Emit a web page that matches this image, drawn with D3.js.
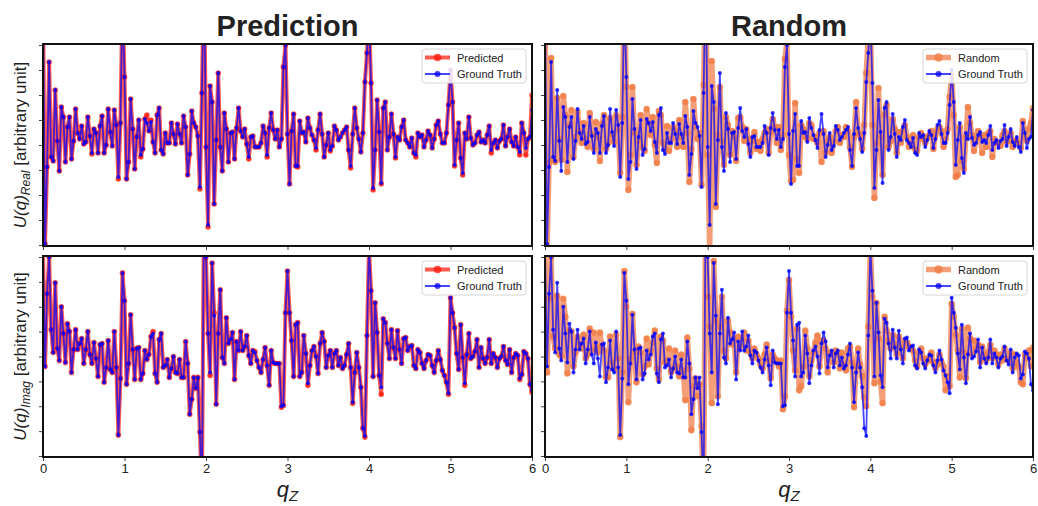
<!DOCTYPE html>
<html>
<head>
<meta charset="utf-8">
<script src="https://cdn.jsdelivr.net/npm/d3@7"></script>
<style>
  body { margin: 0; background: #fff; }
  text { font-family: "Liberation Sans", Arial, Helvetica, sans-serif; }
</style>
</head>
<body>
<svg id="chart" width="1038" height="506"></svg>
<script>
// --- data (arbitrary units, step 0.025 in q_z) ---
const qMax = 6;
const xTicks = [0, 1, 2, 3, 4, 5, 6];
const yTicks = [-100, -75, -50, -25, 0, 25, 50, 75, 100];
const titles = ["Prediction", "Random"];

const gtReal = [
  150,-99,-22,83,-12,-16,55,4,-26,38, 28,-17,18,28,-14,4,36,12,6,19,
  1,3,28,9,-8,16,12,-8,19,29, -8,0,36,13,-1,35,20,-32,22,150,
  68,-34,-17,46,16,-24,8,25,-10,-4, 26,22,14,23,3,-8,30,37,-5,-9,
  12,2,2,22,11,1,21,11,2,29, 18,-30,-9,34,22,18,9,-42,52,180,
  -2,-80,59,43,-59,5,72,-2,-26,32, 16,-17,12,13,-14,17,37,14,8,16,
  1,-12,8,9,-2,-2,-2,2,19,12, -10,17,32,15,6,15,-2,6,78,100,
  11,-39,14,31,-21,-21,24,12,13,3, 27,17,10,5,-3,15,31,11,-12,0,
  12,-5,-1,19,15,5,8,12,15,18, -5,-21,11,37,17,6,-7,12,63,92,
  130,62,-43,-5,45,13,-38,37,43,-5, 8,31,11,-12,8,5,18,25,5,2,
  -2,7,-8,-10,12,8,10,-2,5,14, 10,-3,6,20,24,11,2,2,12,40,
  75,43,-20,5,22,-13,-28,12,6,28, 7,0,2,10,13,3,5,2,10,19,
  -5,2,5,-3,4,6,20,-1,8,16, 3,-1,8,-2,-7,22,12,-3,6,8,
  35
];
const predReal = [
  150,-99,-22,83,-12,-16,55,4,-26,38, 28,-17,18,28,-14,4,36,12,6,19,
  1,3,28,9,-9,16,12,-8,19,29, -8,0,36,13,-1,35,20,-34,22,150,
  68,-34,-17,46,16,-24,8,25,-12,-4, 26,30,14,25,3,-8,30,37,-5,-9,
  12,2,2,22,11,1,21,11,2,29, 18,-30,-9,34,22,18,9,-44,52,180,
  -2,-82,59,43,-59,5,72,-2,-26,32, 16,-17,12,13,-14,17,37,14,8,16,
  1,-14,8,9,-2,-2,-2,2,19,12, -12,17,32,15,6,15,-2,6,78,100,
  11,-39,14,31,-21,-22,24,12,13,3, 27,17,10,5,-5,15,31,11,-12,0,
  12,-6,-1,19,15,5,8,12,15,18, -5,-23,11,37,17,6,-7,12,63,92,
  130,62,-45,-5,45,13,-39,37,43,-5, 8,31,11,-13,8,5,18,25,5,2,
  -2,7,-8,-12,12,8,10,-2,5,14, 10,-3,6,20,24,11,2,2,12,40,
  75,43,-21,5,22,-13,-30,12,6,28, 7,0,2,10,13,3,5,2,10,19,
  -8,2,5,-3,4,6,20,-1,8,16, 3,-1,8,-2,-10,22,12,-10,6,8,
  50
];
const randReal = [
  150,-105,-18,87,-14,-17,47,6,-15,49, 30,-27,20,35,-12,8,33,14,2,22,
  6,-2,32,11,-4,23,8,-16,21,30, -4,2,27,10,3,30,15,-28,28,150,
  58,-45,-10,58,12,-20,4,30,-2,-6, 36,22,10,28,0,-18,34,30,2,-4,
  19,-6,6,18,14,-2,25,8,-2,43, 12,-37,-4,46,18,6,12,-40,60,180,
  -10,-105,84,36,-62,10,58,4,-20,28, 20,-10,14,8,-16,27,28,18,4,16,
  6,-8,4,13,-4,3,-6,6,12,16, -8,13,26,18,2,18,-5,10,86,104,
  -10,-36,-35,42,-14,-28,20,16,8,6, 22,20,6,8,2,12,-17,14,-8,4,
  8,-8,3,14,18,2,10,8,18,14, -2,-22,8,43,12,10,-4,20,72,110,
  130,20,-53,2,57,8,-30,30,40,-2, 4,26,16,-8,13,2,14,20,8,-2,
  2,10,-4,-6,8,12,6,2,8,10, 14,-4,10,16,18,14,-2,6,16,48,
  70,30,-32,-30,18,-16,-24,8,38,22, 10,-6,6,14,8,-8,10,-2,12,14,
  -12,6,2,2,-1,10,14,3,4,12, -2,4,4,2,-3,24,8,4,16,22,
  37
];
const gtImag = [
  105,-10,63,100,27,4,74,8,-4,50, 23,-6,33,25,-16,7,27,7,13,18,
  -7,7,25,2,-7,14,-2,-20,12,13, -26,-11,16,-13,-16,25,-11,-79,-22,84,
  56,-28,-7,42,7,-23,8,9,-23,-17, 6,-3,2,20,23,-17,-26,17,23,-11,
  -9,-3,-21,-12,0,-16,-17,-3,-21,-21, 15,-7,-58,-43,-21,-32,-21,-76,-140,150,
  100,23,-16,94,41,-48,23,67,-1,-7, 39,13,17,24,-23,15,6,25,6,10,
  21,1,-7,6,4,-4,-11,-16,-3,9, -9,-29,6,-6,-7,-7,-7,-50,-49,44,
  86,44,16,-20,32,34,-20,-16,21,3, -27,-9,6,10,0,-17,13,24,15,-11,
  1,6,-11,3,6,-9,-1,-12,-9,2, 13,-11,-46,-16,4,-11,-31,-72,-80,21,
  110,66,-20,54,24,-19,-31,38,34,13, -2,27,9,-2,26,7,-7,18,19,6,
  10,11,-9,-12,7,4,-7,-12,-4,2, 1,-9,-16,-4,6,-3,-14,-19,-26,-37,
  59,44,29,3,-13,32,-1,-27,2,23, -2,0,5,17,-11,9,-2,-7,-1,17,
  -7,3,-1,-11,-2,0,10,-4,-8,7, -16,-1,3,1,-22,-18,5,3,-2,-28,
  -34
];
const predImag = [
  105,-10,63,100,27,4,74,8,-4,50, 23,-6,33,25,-16,7,27,7,13,18,
  -7,7,25,2,-7,14,-2,-20,12,13, -26,-11,16,-13,-16,25,-11,-79,-22,84,
  56,-28,-7,42,7,-23,8,9,-23,-17, 6,-3,2,20,25,-17,-26,17,23,-11,
  -9,-3,-21,-12,0,-16,-17,-3,-21,-21, 15,-7,-58,-43,-21,-32,-21,-76,-140,150,
  100,23,-19,94,44,-48,23,67,-1,-7, 39,13,17,24,-23,15,6,25,6,10,
  21,1,-7,6,5,-4,-11,-16,-3,9, -9,-29,6,-6,-7,-7,-7,-51,-49,44,
  86,44,16,-20,32,34,-20,-16,21,3, -29,-9,6,10,0,-17,13,24,15,-11,
  1,6,-11,3,6,-9,-1,-12,-9,2, 13,-11,-47,-16,4,-11,-31,-72,-81,21,
  110,66,-20,54,24,-19,-38,38,34,13, -2,27,9,-2,26,7,-7,18,19,6,
  10,11,-9,-12,7,4,-7,-12,-4,2, 1,-9,-16,-4,6,-3,-14,-19,-26,-38,
  59,44,29,3,-13,32,-1,-29,2,23, -2,0,5,17,-11,9,-2,-7,-1,17,
  -7,3,-1,-11,-2,0,10,-4,-8,7, -16,-1,3,1,-23,-18,5,3,-2,-28,
  -36
];
const randImag = [
  105,-16,58,100,20,8,61,2,0,58, 40,-17,26,25,-10,4,20,12,8,22,
  -2,2,28,6,24,10,4,24,10,6, -21,-21,20,-6,-12,22,-2,-81,-16,86,
  50,-46,-2,43,4,-26,10,4,-18,-10, 18,-8,6,14,26,-12,-23,20,16,-6,
  -4,8,-16,-12,6,-10,-20,2,-14,-44, 19,-12,-74,-30,-22,-40,-28,-70,-140,150,
  60,30,-47,96,36,-40,30,60,6,-2, 36,24,12,18,-16,20,10,18,24,6,
  16,4,-2,8,2,-2,-8,-12,2,12, -4,-22,2,-2,-4,-10,-4,-53,-40,46,
  77,40,6,-14,28,-34,-30,-10,26,8, -20,-4,4,14,21,-10,16,16,8,-16,
  4,2,-6,6,2,-12,4,-8,-14,8, 10,-6,-51,-10,8,-8,-20,-41,-50,30,
  110,60,-27,54,18,-25,-47,40,26,16, 8,22,12,2,20,10,-2,16,14,10,
  8,6,-4,-10,4,8,-2,-8,-2,-4, 4,-6,-12,-8,2,-6,-10,-34,-20,-30,
  53,40,22,6,-21,28,4,-22,29,18, 2,16,8,12,-6,10,2,-4,4,12,
  -2,6,2,-8,2,-4,8,-2,-4,4, -12,2,-6,-10,-26,-28,2,-2,6,-10,
  9
];

// --- layout ---
const cols = [{ x0: 43, x1: 532 }, { x0: 545, x1: 1033 }];
const rows = [{ y0: 44, y1: 246 }, { y0: 256, y1: 457 }];

const RED = "#ff1a0a", BLUE = "#0000ff", ORANGE = "#f07a42";

const svg = d3.select("#chart");
const defs = svg.append("defs");

function drawPanel(ci, ri, back, gt, backStyle, backLabel) {
    const c = cols[ci], r = rows[ri];
    const x = d3.scaleLinear().domain([0, qMax]).range([c.x0, c.x1]);
    const y = d3.scaleLinear().domain([-101, 101]).range([r.y1, r.y0]);
    const step = qMax / (gt.length - 1);
    const id = `clip-${ci}-${ri}`;

    defs.append("clipPath").attr("id", id)
        .append("rect")
        .attr("x", c.x0).attr("y", r.y0)
        .attr("width", c.x1 - c.x0).attr("height", r.y1 - r.y0);

    const g = svg.append("g").attr("clip-path", `url(#${id})`);
    const line = d3.line().x((d, i) => x(i * step)).y(d => y(d));

    // back series (Predicted or Random) -- wide line
    g.append("path").datum(back)
        .attr("d", line)
        .attr("fill", "none")
        .attr("stroke", backStyle.color)
        .attr("stroke-opacity", 0.72)
        .attr("stroke-width", backStyle.width)
        .attr("stroke-linejoin", "round");
    g.append("g").selectAll("circle").data(back).join("circle")
        .attr("cx", (d, i) => x(i * step)).attr("cy", d => y(d))
        .attr("r", backStyle.r)
        .attr("fill", backStyle.color).attr("fill-opacity", 0.72);

    // ground truth on top
    g.append("path").datum(gt)
        .attr("d", line)
        .attr("fill", "none")
        .attr("stroke", BLUE)
        .attr("stroke-opacity", 0.72)
        .attr("stroke-width", 1.8)
        .attr("stroke-linejoin", "round");
    g.append("g").selectAll("circle").data(gt).join("circle")
        .attr("cx", (d, i) => x(i * step)).attr("cy", d => y(d))
        .attr("r", 2)
        .attr("fill", BLUE).attr("fill-opacity", 0.78);

    // axes (ticks only, frame drawn separately)
    const xAxis = svg.append("g")
        .attr("transform", `translate(0,${r.y1})`)
        .call(d3.axisBottom(x).tickValues(xTicks).tickSize(4).tickPadding(3)
            .tickFormat(ri === 1 ? d3.format("d") : ""));
    const yAxis = svg.append("g")
        .attr("transform", `translate(${c.x0},0)`)
        .call(d3.axisLeft(y).tickValues(yTicks).tickSize(4).tickFormat(""));
    [xAxis, yAxis].forEach(a => {
        a.select(".domain").remove();
        a.selectAll(".tick line").attr("stroke", "#444");
        a.selectAll("text").attr("font-size", 13).attr("fill", "#222")
            .attr("font-family", "'Liberation Sans', Arial, sans-serif");
    });

    svg.append("rect")
        .attr("x", c.x0).attr("y", r.y0)
        .attr("width", c.x1 - c.x0).attr("height", r.y1 - r.y0)
        .attr("fill", "none").attr("stroke", "#111").attr("stroke-width", 2);

    // legend
    const lx = c.x1 - 110, ly = r.y0 + 5;
    const lg = svg.append("g").attr("transform", `translate(${lx},${ly})`);
    lg.append("rect").attr("width", 104).attr("height", 34).attr("rx", 3)
        .attr("fill", "#fff").attr("fill-opacity", 0.85)
        .attr("stroke", "#d6d6d6").attr("stroke-width", 1);
    const items = [
        { label: backLabel, color: backStyle.color, w: backStyle.width, r: backStyle.r + 1 },
        { label: "Ground Truth", color: BLUE, w: 2, r: 3 }
    ];
    items.forEach((it, k) => {
        const yy = 8.5 + k * 16.5;
        lg.append("line").attr("x1", 3).attr("x2", 28).attr("y1", yy).attr("y2", yy)
            .attr("stroke", it.color).attr("stroke-opacity", 0.72).attr("stroke-width", it.w);
        lg.append("circle").attr("cx", 15.5).attr("cy", yy).attr("r", it.r)
            .attr("fill", it.color).attr("fill-opacity", 0.75);
        lg.append("text").attr("x", 35).attr("y", yy + 4)
            .attr("font-size", 11).attr("fill", "#222").text(it.label);
    });
}

drawPanel(0, 0, predReal, gtReal, { color: RED, width: 4, r: 2.8 }, "Predicted");
drawPanel(0, 1, predImag, gtImag, { color: RED, width: 4, r: 2.8 }, "Predicted");
drawPanel(1, 0, randReal, gtReal, { color: ORANGE, width: 5.5, r: 3.3 }, "Random");
drawPanel(1, 1, randImag, gtImag, { color: ORANGE, width: 5.5, r: 3.3 }, "Random");

// column titles
titles.forEach((t, i) => {
    svg.append("text")
        .attr("x", (cols[i].x0 + cols[i].x1) / 2).attr("y", 36)
        .attr("text-anchor", "middle")
        .attr("font-size", 29).attr("font-weight", "bold").attr("fill", "#222")
        .text(t);
});

// x labels q_Z
cols.forEach(c => {
    const t = svg.append("text")
        .attr("x", (c.x0 + c.x1) / 2).attr("y", 497)
        .attr("text-anchor", "middle").attr("fill", "#222");
    t.append("tspan").attr("font-size", 22).attr("font-style", "italic").text("q");
    t.append("tspan").attr("font-size", 15).attr("font-style", "italic").attr("dy", 4).text("Z");
});

// y labels
[["Real", 0], ["Imag", 1]].forEach(([sub, ri]) => {
    const r = rows[ri];
    const cy = (r.y0 + r.y1) / 2;
    const t = svg.append("text")
        .attr("transform", `translate(26,${cy}) rotate(-90)`)
        .attr("text-anchor", "middle").attr("fill", "#222").attr("font-size", 17);
    t.append("tspan").attr("font-style", "italic").text("U(q)");
    t.append("tspan").attr("font-style", "italic").attr("font-size", 12).attr("dy", 4).text(sub);
    t.append("tspan").attr("dy", -4).text(" [arbitrary unit]");
});
</script>
</body>
</html>
